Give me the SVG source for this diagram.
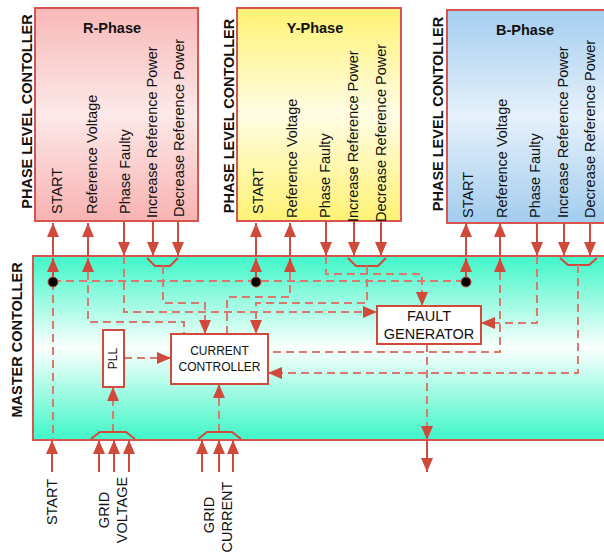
<svg xmlns="http://www.w3.org/2000/svg" width="604" height="554" viewBox="0 0 604 554">
<defs>
<linearGradient id="gM" x1="0" y1="0" x2="0" y2="1"><stop offset="0" stop-color="#3ff7c8"/><stop offset="0.5" stop-color="#fbfffd"/><stop offset="1" stop-color="#3ff7c8"/></linearGradient>
<linearGradient id="gR" x1="0" y1="0" x2="0" y2="1"><stop offset="0" stop-color="#f8b8b8"/><stop offset="0.5" stop-color="#fde9e9"/><stop offset="1" stop-color="#f8b2b2"/></linearGradient>
<linearGradient id="gY" x1="0" y1="0" x2="0" y2="1"><stop offset="0" stop-color="#fff274"/><stop offset="0.5" stop-color="#fffde4"/><stop offset="1" stop-color="#fff274"/></linearGradient>
<linearGradient id="gB" x1="0" y1="0" x2="0" y2="1"><stop offset="0" stop-color="#a5cef0"/><stop offset="0.5" stop-color="#e6f1fb"/><stop offset="1" stop-color="#a3ccee"/></linearGradient>
<marker id="ah" viewBox="0 0 14 12" refX="14" refY="6" markerWidth="14" markerHeight="12" markerUnits="userSpaceOnUse" orient="auto"><path d="M0,0 L14,6 L0,12 z" fill="#d04a3c"/></marker>
<style>
.box{stroke:#d9534f;stroke-width:2}
.wb{fill:#ffffff;stroke:#d04a3c;stroke-width:2}
.ln{stroke:#d04a3c;stroke-width:2;fill:none}
.dl{stroke:#d9786c;stroke-width:2;fill:none;stroke-dasharray:8 5}
.ar{marker-end:url(#ah)}
.t{font-family:"Liberation Sans",Arial,sans-serif;font-size:14.5px;fill:#111}
.b{font-weight:bold}
.m{text-anchor:middle}
.s{font-size:12px}
</style>
</defs>

<g id="r-phase">
<rect class="box" x="35" y="8" width="163" height="213" fill="url(#gR)"/>
<text class="t b m" x="112" y="33">R-Phase</text>
<text class="t" transform="translate(62,214) rotate(-90)">START</text>
<text class="t" transform="translate(97,214) rotate(-90)">Reference Voltage</text>
<text class="t" transform="translate(130,214) rotate(-90)">Phase Faulty</text>
<text class="t" transform="translate(157,218) rotate(-90)">Increase Reference Power</text>
<text class="t" transform="translate(184,217) rotate(-90)">Decrease Reference Power</text>
</g>
<g id="y-phase">
<rect class="box" x="237" y="8" width="164" height="213" fill="url(#gY)"/>
<text class="t b m" x="315" y="33">Y-Phase</text>
<text class="t" transform="translate(263,214) rotate(-90)">START</text>
<text class="t" transform="translate(297,218) rotate(-90)">Reference Voltage</text>
<text class="t" transform="translate(330,218) rotate(-90)">Phase Faulty</text>
<text class="t" transform="translate(358,222) rotate(-90)">Increase Reference Power</text>
<text class="t" transform="translate(386,222) rotate(-90)">Decrease Reference Power</text>
</g>
<g id="b-phase">
<rect class="box" x="447" y="10" width="170" height="213" fill="url(#gB)"/>
<text class="t b m" x="525" y="35">B-Phase</text>
<text class="t" transform="translate(473,218) rotate(-90)">START</text>
<text class="t" transform="translate(507,218) rotate(-90)">Reference Voltage</text>
<text class="t" transform="translate(540,218) rotate(-90)">Phase Faulty</text>
<text class="t" transform="translate(568,218) rotate(-90)">Increase Reference Power</text>
<text class="t" transform="translate(595,218) rotate(-90)">Decrease Reference Power</text>
</g>
<g id="phase-labels">
<text class="t b m" transform="translate(32,111.5) rotate(-90)">PHASE LEVEL CONTOLLER</text>
<text class="t b m" transform="translate(234,116) rotate(-90)">PHASE LEVEL CONTOLLER</text>
<text class="t b m" transform="translate(443,114) rotate(-90)">PHASE LEVEL CONTOLLER</text>
</g>

<g id="master">
<rect class="box" x="33" y="256" width="600" height="184" fill="url(#gM)"/>
<text class="t b m" transform="translate(22,340) rotate(-90)">MASTER CONTOLLER</text>
</g>

<g id="connectors">
<!-- START distribution -->
<path class="dl" d="M53,281 H466"/>
<path class="dl" d="M53,282 V440"/>
<path class="ln ar" d="M53,282 V258"/>
<path class="ln ar" d="M53,256 V223"/>
<path class="ln ar" d="M256,282 V258"/>
<path class="ln ar" d="M256,256 V223"/>
<path class="ln ar" d="M466,282 V258"/>
<path class="ln ar" d="M466,256 V223"/>
<!-- Reference voltage -->
<path class="ln ar" d="M88,276 V258"/>
<path class="ln ar" d="M88,256 V223"/>
<path class="dl" d="M88,272 V322 H184 V334"/>
<path class="ln ar" d="M290,276 V258"/>
<path class="ln ar" d="M290,256 V223"/>
<path class="dl" d="M290,272 V297 H227 V334"/>
<path class="ln ar" d="M500,276 V258"/>
<path class="ln ar" d="M500,256 V223"/>
<path class="dl" d="M500,272 V352 H268"/>
<!-- Phase faulty -->
<path class="ln ar" d="M124,221 V256"/>
<path class="dl ar" d="M124,256 V312 H377"/>
<path class="ln ar" d="M326,221 V256"/>
<path class="dl ar" d="M326,256 V274 H422 V306"/>
<path class="ln ar" d="M537,223 V256"/>
<path class="dl ar" d="M537,256 V323 H481"/>
<!-- Increase / decrease power -->
<path class="ln ar" d="M153,221 V256"/>
<path class="ln ar" d="M178,221 V256"/>
<polyline class="ln" points="147,258 155,266 170,266 178,258"/>
<path class="dl ar" d="M163,266 V303 H205 V334"/>
<path class="ln ar" d="M354,221 V256"/>
<path class="ln ar" d="M381,221 V256"/>
<polyline class="ln" points="348,258 356,266 378,266 386,258"/>
<path class="dl ar" d="M367,266 V303 H256 V334"/>
<path class="ln ar" d="M564,223 V256"/>
<path class="ln ar" d="M590,223 V256"/>
<polyline class="ln" points="560,258 568,265 589,265 597,258"/>
<path class="dl ar" d="M578,265 V373 H268"/>
<!-- PLL / grid inputs -->
<path class="dl ar" d="M124,358 H171"/>
<path class="dl ar" d="M113,432 V387"/>
<polyline class="ln" points="91,439 100,432 126,432 135,439"/>
<path class="ln ar" d="M99,472 V440"/>
<path class="ln ar" d="M114,472 V440"/>
<path class="ln ar" d="M129,472 V440"/>
<path class="dl ar" d="M219,432 V384"/>
<polyline class="ln" points="198,439 207,432 232,432 241,439"/>
<path class="ln ar" d="M202,472 V440"/>
<path class="ln ar" d="M219,472 V440"/>
<path class="ln ar" d="M233,472 V440"/>
<path class="ln ar" d="M52,472 V440"/>
<!-- Fault generator output -->
<path class="dl ar" d="M427,344 V440"/>
<path class="ln ar" d="M427,440 V472"/>
<circle cx="53" cy="282" r="5" fill="#000" stroke="#d04a3c" stroke-width="1"/>
<circle cx="256" cy="282" r="5" fill="#000" stroke="#d04a3c" stroke-width="1"/>
<circle cx="466" cy="282" r="5" fill="#000" stroke="#d04a3c" stroke-width="1"/>
</g>

<g id="pll">
<rect class="wb" x="103" y="330" width="21" height="57"/>
<text class="t s m" transform="translate(117,358.5) rotate(-90)">PLL</text>
</g>
<g id="current-controller">
<rect class="wb" x="171" y="334" width="97" height="50"/>
<text class="t s m" x="219.5" y="355">CURRENT</text>
<text class="t s m" x="219.5" y="371">CONTROLLER</text>
</g>
<g id="fault-generator">
<rect class="wb" x="377" y="306" width="104" height="38"/>
<text class="t m" x="429" y="321">FAULT</text>
<text class="t m" x="429" y="339">GENERATOR</text>
</g>

<g id="inputs">
<text class="t m" transform="translate(57,502) rotate(-90)">START</text>
<text class="t m" transform="translate(109,510) rotate(-90)">GRID</text>
<text class="t m" transform="translate(127,510) rotate(-90)">VOLTAGE</text>
<text class="t m" transform="translate(214,515) rotate(-90)">GRID</text>
<text class="t m" transform="translate(232,517) rotate(-90)">CURRENT</text>
</g>
</svg>
